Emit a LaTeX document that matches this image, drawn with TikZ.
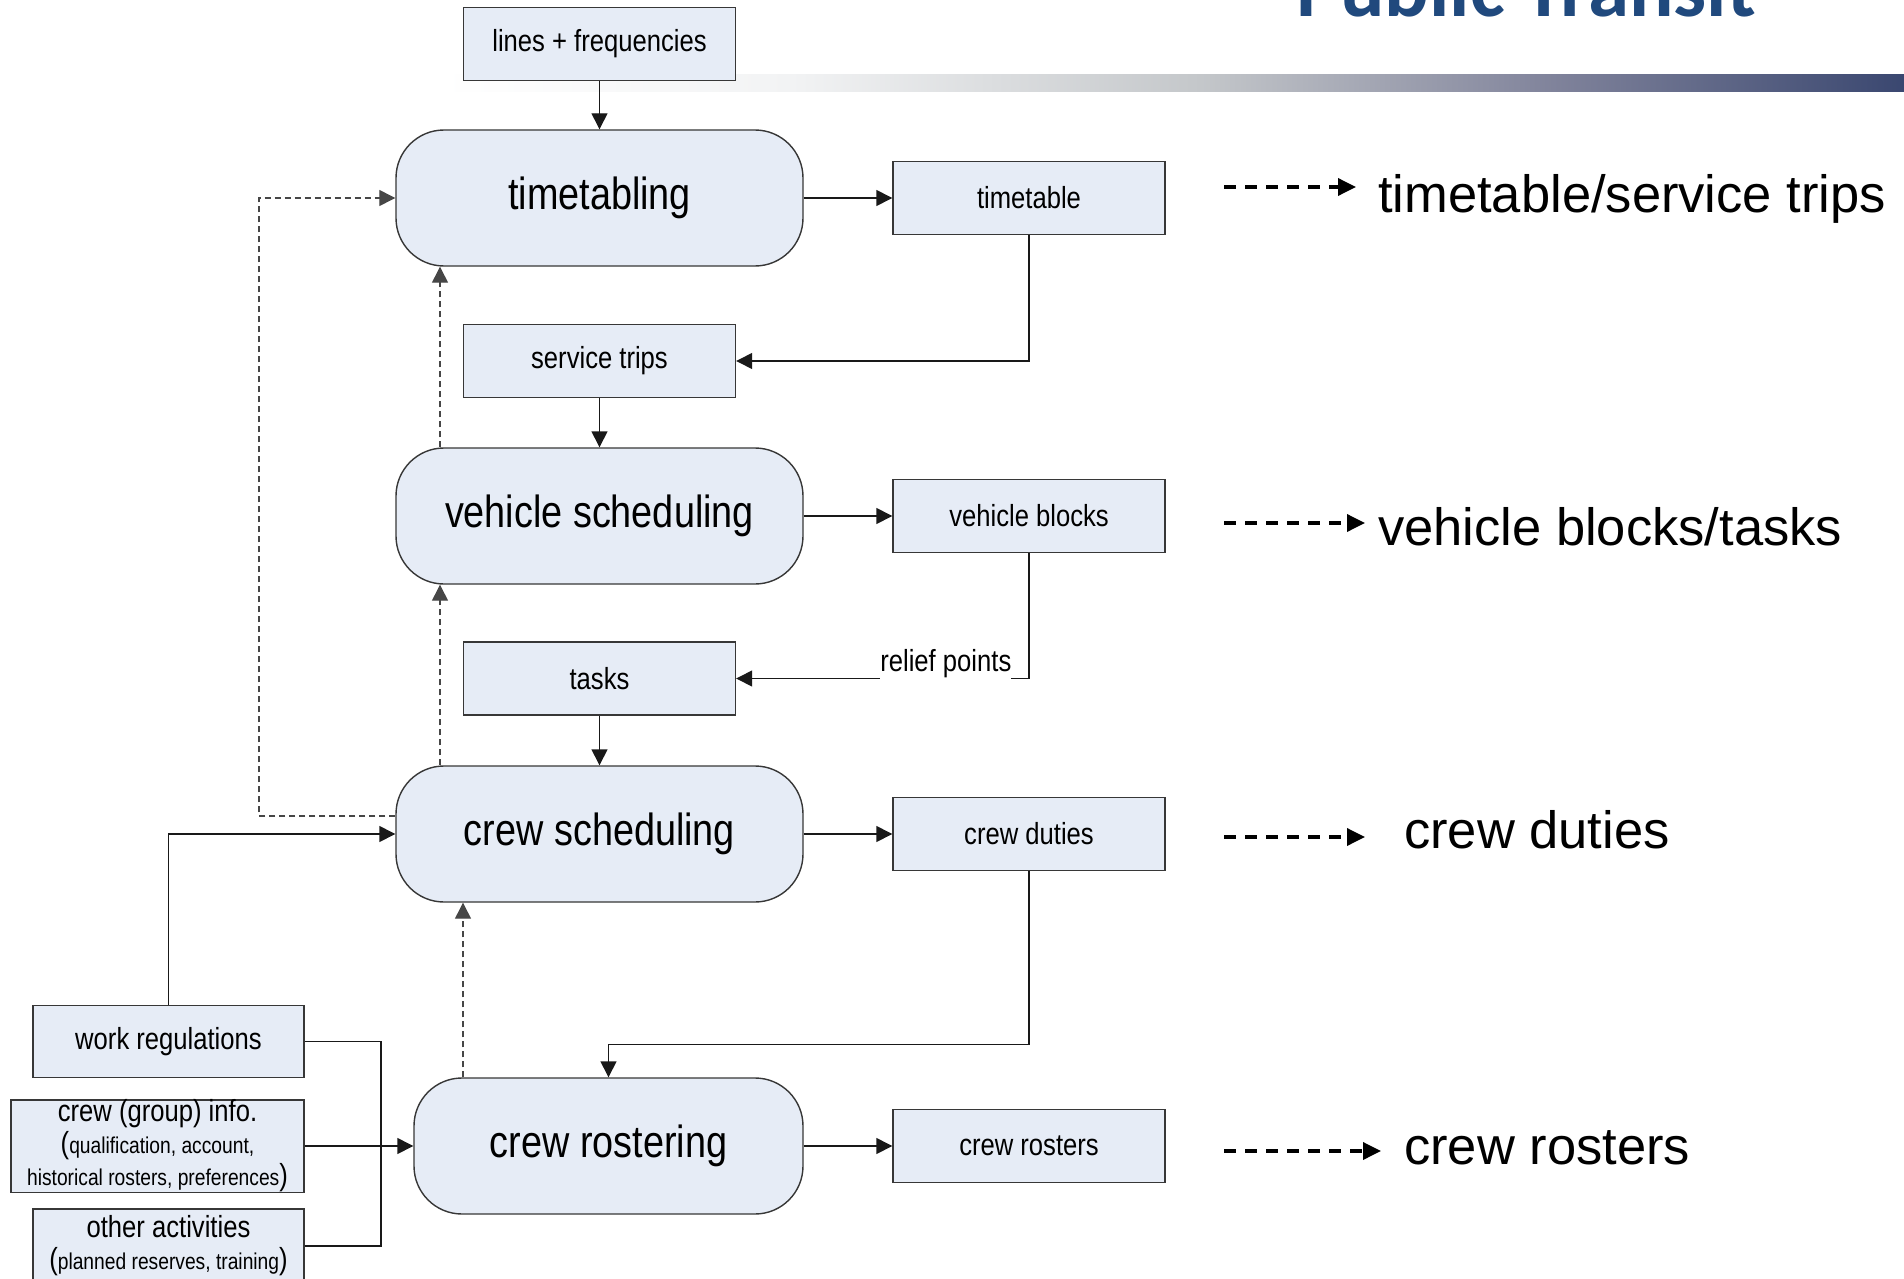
\documentclass[tikz,border=0pt]{standalone}
\usepackage{fontspec}
\usetikzlibrary{arrows.meta,calc}

% Fonts: diagram text is a slightly condensed sans, legend text is regular width
\newfontfamily\diagfont[FakeStretch=0.84]{Liberation Sans}
\newfontfamily\legendfamily{Liberation Sans}
\newfontfamily\titlefamily{Carlito}
\newcommand\procfont{\diagfont\fontsize{45}{54}\selectfont}
\newcommand\boxfont{\diagfont\fontsize{30.5}{32}\selectfont}
\newcommand\notefont{\diagfont\fontsize{22.9}{32}\selectfont}
\newcommand\legfont{\legendfamily\fontsize{52.5}{60}\selectfont}
\newcommand\ttlfont{\titlefamily\bfseries\fontsize{83}{90}\selectfont}

% Colours
\definecolor{boxfill}{RGB}{230,236,246}
\definecolor{linegray}{RGB}{55,55,55}
\definecolor{linedark}{RGB}{25,25,25}
\definecolor{dashgray}{RGB}{70,70,70}
\definecolor{titleblue}{RGB}{32,73,125}
\definecolor{barA}{RGB}{242,243,244}
\definecolor{barB}{RGB}{196,199,202}
\definecolor{barC}{RGB}{128,131,155}
\definecolor{barD}{RGB}{58,71,112}

% the visible part of a TikZ shading is its 25bp..75bp range
\pgfdeclarehorizontalshading{titlebar}{100bp}{color(0bp)=(white); color(25bp)=(white); color(37bp)=(barA); color(51bp)=(barB); color(63bp)=(barC); color(75bp)=(barD); color(100bp)=(barD)}

\tikzset{
  procnode/.style={draw=linegray, line width=1.4pt, fill=boxfill, rounded corners=48pt,
    minimum width=407pt, minimum height=136pt, inner sep=0pt, font=\procfont},
  databox/.style={draw=linegray, line width=1.4pt, fill=boxfill,
    minimum width=272pt, minimum height=73pt, inner sep=0pt, align=center, font=\boxfont},
  flow/.style={line width=1.4pt, draw=linedark, -{Triangle[length=16pt,width=16pt]}},
  plainline/.style={line width=1.4pt, draw=linedark},
  feedback/.style={line width=1.3pt, draw=dashgray, dash pattern=on 6pt off 4pt,
    -{Triangle[length=16pt,width=16pt]}},
  legendarrow/.style={line width=3.5pt, draw=black, dash pattern=on 12pt off 9pt,
    -{Triangle[length=18pt,width=17pt]}},
  legendtext/.style={font=\legfont, anchor=base west, inner sep=0pt},
}

\begin{document}
\begin{tikzpicture}[x=1pt,y=-1pt]
\useasboundingbox (0,0) rectangle (1904,1279);
\clip (0,0) rectangle (1904,1279);

% header: title and gradient rule
\shade[shading=titlebar] (440,75) rectangle (1904,92);
\node[font=\ttlfont, text=titleblue, anchor=base west, inner sep=0pt] (title) at (1296,17) {Public Transit};

% planning stages
\node[procnode] (tt) at (599.5,198) {timetabling};
\node[procnode] (vs) at (599.5,516) {vehicle scheduling};
\node[procnode] (cs) at (599.5,834) {crew scheduling};
\node[procnode, minimum width=389pt] (cr) at (608.5,1146) {crew rostering};

% data boxes
\node[databox] (lf) at (599.5,44) {lines + frequencies};
\node[databox] (ttb) at (1029,198) {timetable};
\node[databox] (st) at (599.5,361) {service trips};
\node[databox] (vb) at (1029,516) {vehicle blocks};
\node[databox] (tasks) at (599.5,678.5) {tasks};
\node[databox] (cd) at (1029,834) {crew duties};
\node[databox] (crs) at (1029,1146) {crew rosters};

\node[databox, minimum width=271pt, minimum height=72pt] (wr) at (168.5,1041.5) {work regulations};
\node[databox, minimum width=293pt, minimum height=91pt] (ci) at (157.5,1146)
  {crew (group) info.\\({\notefont qualification, account,}\\{\notefont historical rosters, preferences})};
\node[databox, minimum width=271pt, minimum height=74pt] (oa) at (168.5,1246)
  {other activities\\({\notefont planned reserves, training})};

% main flow
\draw[flow] (lf) -- (tt);
\draw[flow] (tt) -- (ttb);
\draw[flow] (ttb.south) |- (st.east);
\draw[flow] (st) -- (vs);
\draw[flow] (vs) -- (vb);
\draw[flow] (vb.south) |- (tasks.east)
  node[pos=0.642, anchor=base, yshift=7pt, fill=white, inner xsep=0pt, inner ysep=0pt,
       text depth=12pt, font=\boxfont] (rp) {relief points};
\draw[flow] (tasks) -- (cs);
\draw[flow] (cs) -- (cd);
\draw[flow] (cd.south) -- ++(0,173) -| (cr.north);
\draw[flow] (cr) -- (crs);

% inputs to crew scheduling and rostering
\coordinate (jn) at (381,1146);
\draw[flow] (wr.north) |- (cs.west);
\draw[plainline] (wr.east) -| (jn);
\draw[plainline] (oa.east) -| (jn);
\draw[flow] (ci.east) -- (cr.west);

% feedback loops
\coordinate (fbl) at (259,0);
\coordinate (fbx) at (440,0);
\coordinate (fbr) at (463,0);
\draw[feedback] ([yshift=18pt]cs.west) -| (fbl |- tt.west) -- (tt.west);
\draw[feedback] (cs.north -| fbx) -- (vs.south -| fbx);
\draw[feedback] (vs.north -| fbx) -- (tt.south -| fbx);
\draw[feedback] (cr.north -| fbr) -- (cs.south -| fbr);

% legend of results
\coordinate (l1a) at (1224,187);  \coordinate (l1b) at (1356,187);
\coordinate (l2a) at (1224,523);  \coordinate (l2b) at (1365,523);
\coordinate (l3a) at (1224,837);  \coordinate (l3b) at (1365,837);
\coordinate (l4a) at (1224,1151); \coordinate (l4b) at (1381,1151);
\draw[legendarrow] (l1a) -- (l1b);
\draw[legendarrow] (l2a) -- (l2b);
\draw[legendarrow] (l3a) -- (l3b);
\draw[legendarrow] (l4a) -- (l4b);
\node[legendtext] (r1) at (1378,212) {timetable/service trips};
\node[legendtext] (r2) at (1378,545) {vehicle blocks/tasks};
\node[legendtext] (r3) at (1404,848) {crew duties};
\node[legendtext] (r4) at (1404,1164) {crew rosters};
\end{tikzpicture}
\end{document}
